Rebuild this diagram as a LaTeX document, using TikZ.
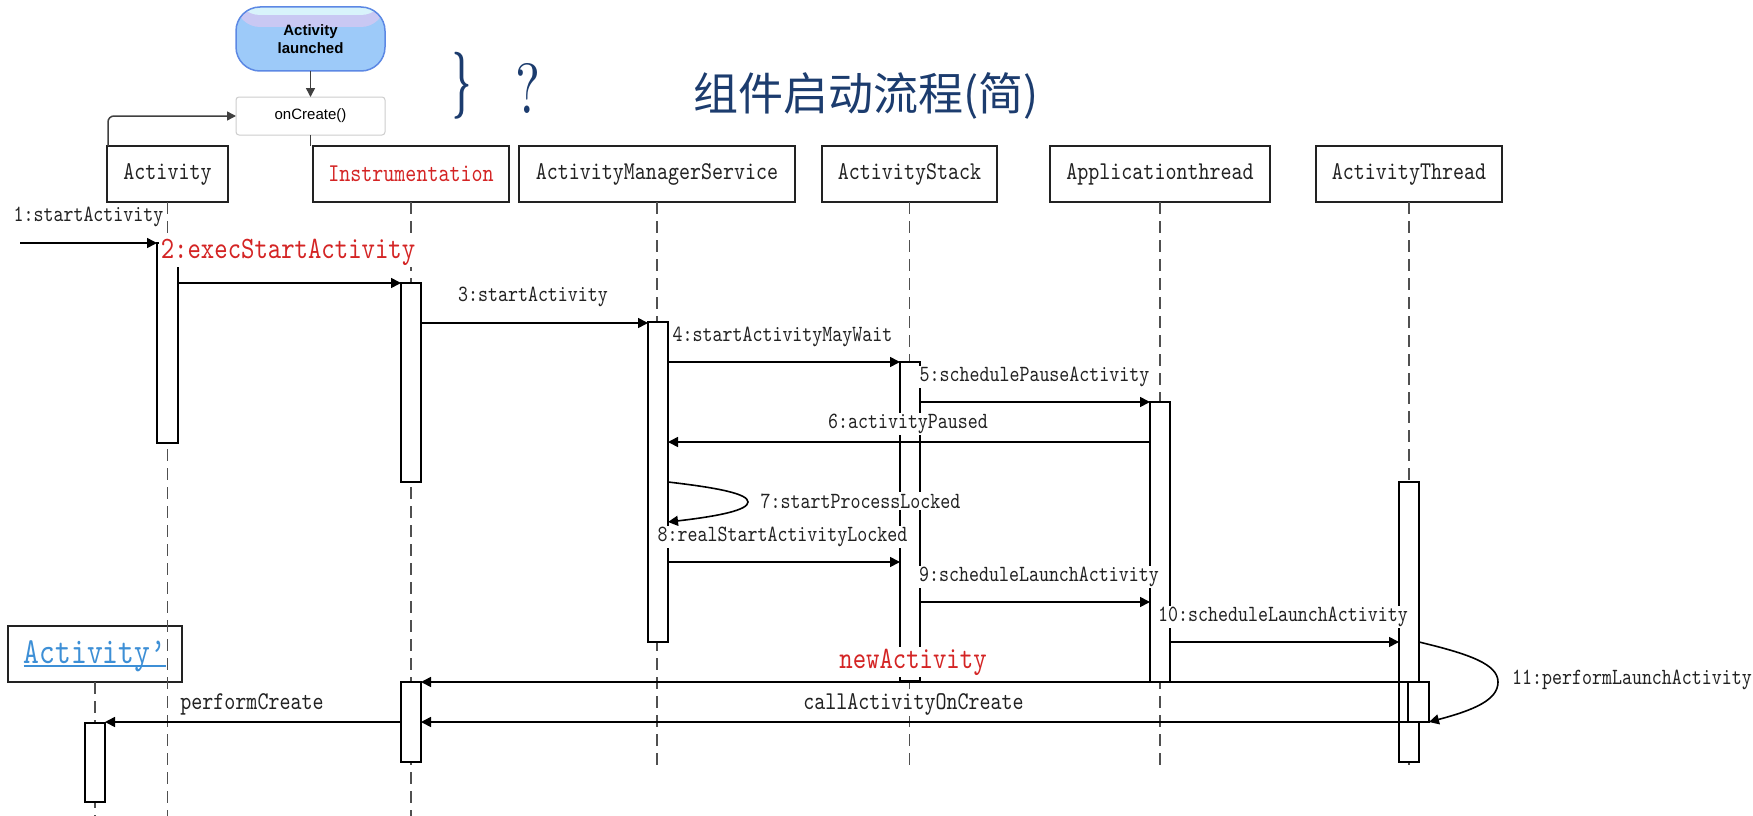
\documentclass[tikz,border=0pt]{standalone}
\usepackage{fontspec}
\usepackage{graphicx}
\usetikzlibrary{arrows.meta}
\newfontfamily\seqfont{lmmono10-regular}[Extension=.otf, FakeStretch=0.82]
\newfontfamily\uifont{Liberation Sans}
\newfontfamily\cjkfont{Noto Sans CJK SC}
\definecolor{navy}{HTML}{1C3C6E}
\definecolor{ink}{HTML}{222222}
\definecolor{redtxt}{HTML}{D42424}
\definecolor{linkblue}{HTML}{3D8FD6}
\definecolor{lifegray}{HTML}{505050}
\definecolor{launchblue}{HTML}{9DCAF9}
\definecolor{launchedge}{HTML}{5C88E4}
\definecolor{launchlav}{HTML}{C9C8F3}
\definecolor{launchcyan}{HTML}{D8F3FB}
\definecolor{boxgray}{HTML}{CDCDCD}
\definecolor{flowgray}{HTML}{404040}

\begin{document}
\begin{tikzpicture}[x=1pt,y=-1pt,
  hdr/.style={draw=ink, line width=1.6pt, fill=white, inner sep=0pt, outer sep=0pt,
    minimum height=56pt, text=ink, font=\seqfont\fontsize{25.6}{28}\selectfont},
  act/.style={draw=black, line width=1.4pt, fill=white, inner sep=0pt, outer sep=0pt,
    minimum width=20pt},
  life/.style={draw=lifegray, line width=1.5pt, dash pattern=on 12pt off 7pt},
  msg/.style={draw=black, line width=1.6pt, -{Triangle[length=10pt,width=10pt]}},
  lbl/.style={fill=white, inner sep=1.5pt, text=ink, font=\seqfont\fontsize{23.2}{26}\selectfont},
  lblbig/.style={lbl, font=\seqfont\fontsize{25.6}{28}\selectfont},
  lblred/.style={lbl, text=redtxt, font=\seqfont\fontsize{31.1}{34}\selectfont},
  flow/.style={draw=flowgray, line width=1.5pt, -{Triangle[length=9pt,width=9pt]}}
]
\fill[white] (0,0) rectangle (1753,816);
\useasboundingbox (0,0) rectangle (1753,816);

% ---- lifecycle fragment at the top ----
\node[draw=launchedge, line width=1.5pt, rounded corners=24pt, minimum width=149pt,
  minimum height=64pt, inner sep=0pt, outer sep=0pt, align=center, text=black,
  font=\uifont\bfseries\fontsize{15}{18}\selectfont,
  path picture={
    \fill[launchblue] (path picture bounding box.south west) rectangle (path picture bounding box.north east);
    \fill[launchlav] (path picture bounding box.north west) rectangle ([yshift=-20pt]path picture bounding box.north east);
    \fill[launchcyan] (path picture bounding box.north west) rectangle ([yshift=-8pt]path picture bounding box.north east);
  }] (launched) at (310.5,39) {Activity\\launched};
\node[draw=boxgray, line width=1pt, rounded corners=3pt, fill=white, minimum width=149pt,
  minimum height=38pt, inner sep=0pt, outer sep=0pt,
  font=\uifont\fontsize{15}{18}\selectfont] (oncreate) at (310.5,116) {onCreate()};
\draw[flow] (launched.south) -- (oncreate.north);

% ---- title ----
\node[text=navy, inner sep=0pt] (brace) at (461.5,85.5) {\resizebox*{19pt}{67pt}{\boldmath$\}$}};
\node[text=navy, inner sep=0pt] (qmark) at (527.5,88) {\resizebox{25pt}{50pt}{?}};
\node[text=navy, inner sep=0pt, font=\cjkfont\fontsize{45}{50}\selectfont] (title) at (866,96) {组件启动流程(简)};

% ---- participants ----
\node[hdr, minimum width=121pt] (hA) at (167.5,174) {Activity};
\node[hdr, minimum width=196pt, text=redtxt] (hI) at (411,174) {Instrumentation};
\node[hdr, minimum width=276pt] (hM) at (657,174) {ActivityManagerService};
\node[hdr, minimum width=175pt] (hS) at (909.5,174) {ActivityStack};
\node[hdr, minimum width=220pt] (hT) at (1160,174) {Applicationthread};
\node[hdr, minimum width=186pt] (hH) at (1409,174) {ActivityThread};
\node[hdr, minimum width=174pt] (hP) at (95,654) {};
\node[inner sep=0pt, anchor=base, text=linkblue,
  font=\seqfont\fontsize{36.7}{40}\selectfont] (pname) at (95,663) {Activity’};
\draw[linkblue, line width=1.8pt] ([yshift=-3pt]pname.base west) -- ([yshift=-3pt]pname.base east);

\draw[flowgray, line width=1.5pt] (oncreate.south) -- (oncreate.south |- hI.north);
\draw[flow, rounded corners=6pt] ([xshift=1pt]hA.north west) |- (oncreate.west);

% ---- lifelines ----
\coordinate (bot) at (0,816);
\coordinate (mid) at (0,768);
\draw[life] (hA.south) -- (hA.south |- bot);
\draw[life] (hI.south) -- (hI.south |- bot);
\draw[life] (hM.south) -- (hM.south |- mid);
\draw[life] (hS.south) -- (hS.south |- mid);
\draw[life] (hT.south) -- (hT.south |- mid);
\draw[life] (hH.south) -- (hH.south |- mid);
\draw[life] (hP.south) -- (hP.south |- bot);

% ---- activations ----
\node[act, minimum width=21pt, minimum height=200pt] (actA1) at (167.5,343) {};
\node[act, minimum height=199pt] (actI1) at (411,382.5) {};
\node[act, minimum height=320pt] (actM) at (658,482) {};
\node[act, minimum height=319pt] (actS) at (910,521.5) {};
\node[act, minimum height=280pt] (actT) at (1160,542) {};
\node[act, minimum height=280pt] (actH) at (1409,622) {};
\node[act, minimum width=21pt, minimum height=40pt] (actH2) at (1418.5,702) {};
\node[act, minimum height=80pt] (actI2) at (411,722) {};
\node[act, minimum height=79pt] (actP) at (95,762.5) {};

% ---- messages ----
\coordinate (in1) at (20,243);
\coordinate (r2) at (0,283);
\coordinate (r3) at (0,323);
\coordinate (r4) at (0,362);
\coordinate (r5) at (0,402);
\coordinate (r6) at (0,442);
\coordinate (r8) at (0,562);
\coordinate (r9) at (0,602);
\coordinate (r10) at (0,642);
\coordinate (rn) at (0,682);
\coordinate (rc) at (0,722);
\coordinate (s7a) at (668,482);
\coordinate (s7m) at (748,502);
\coordinate (s7b) at (668,522);
\coordinate (s11a) at (1419,642);
\coordinate (s11m) at (1498,682);
\coordinate (s11b) at (1429,722);

\draw[msg] (in1) -- (in1 -| actA1.west);
\draw[msg] (actA1.east |- r2) -- (actI1.west |- r2);
\draw[msg] (actI1.east |- r3) -- (actM.west |- r3);
\draw[msg] (actM.east |- r4) -- (actS.west |- r4);
\draw[msg] (actS.east |- r5) -- (actT.west |- r5);
\draw[msg] (actT.west |- r6) -- (actM.east |- r6);
\draw[msg] (s7a) .. controls +(52,6) and +(0,-8) .. (s7m) .. controls +(0,8) and +(52,-6) .. (s7b);
\draw[msg] (actM.east |- r8) -- (actS.west |- r8);
\draw[msg] (actS.east |- r9) -- (actT.west |- r9);
\draw[msg] (actT.east |- r10) -- (actH.west |- r10);
\draw[msg] (s11a) .. controls +(50,12) and +(0,-18) .. (s11m) .. controls +(0,18) and +(45,-12) .. (s11b);
\draw[msg] (actH2.west |- rn) -- (actI2.east |- rn);
\draw[msg] (actH2.west |- rc) -- (actI2.east |- rc);
\draw[msg] (actI2.west |- rc) -- (actP.east |- rc);

% ---- message labels ----
\node[lbl] (l1) at (88.5,217) {1:startActivity};
\node[lblred] (l2) at (288,252) {2:execStartActivity};
\node[lbl] (l3) at (533,297) {3:startActivity};
\node[lbl] (l4) at (782.5,337) {4:startActivityMayWait};
\node[lbl] (l5) at (1034.5,377) {5:schedulePauseActivity};
\node[lbl] (l6) at (908,424) {6:activityPaused};
\node[lbl] (l7) at (860.5,501) {7:startProcessLocked};
\node[lbl] (l8) at (782.5,537) {8:realStartActivityLocked};
\node[lbl] (l9) at (1039,577) {9:scheduleLaunchActivity};
\node[lbl] (l10) at (1283,617) {10:scheduleLaunchActivity};
\node[lbl] (l11) at (1632,680) {11:performLaunchActivity};
\node[lblred] (ln) at (913,662) {newActivity};
\node[lblbig] (lc) at (913.5,704) {callActivityOnCreate};
\node[lblbig] (lp) at (252,704) {performCreate};
\end{tikzpicture}
\end{document}
